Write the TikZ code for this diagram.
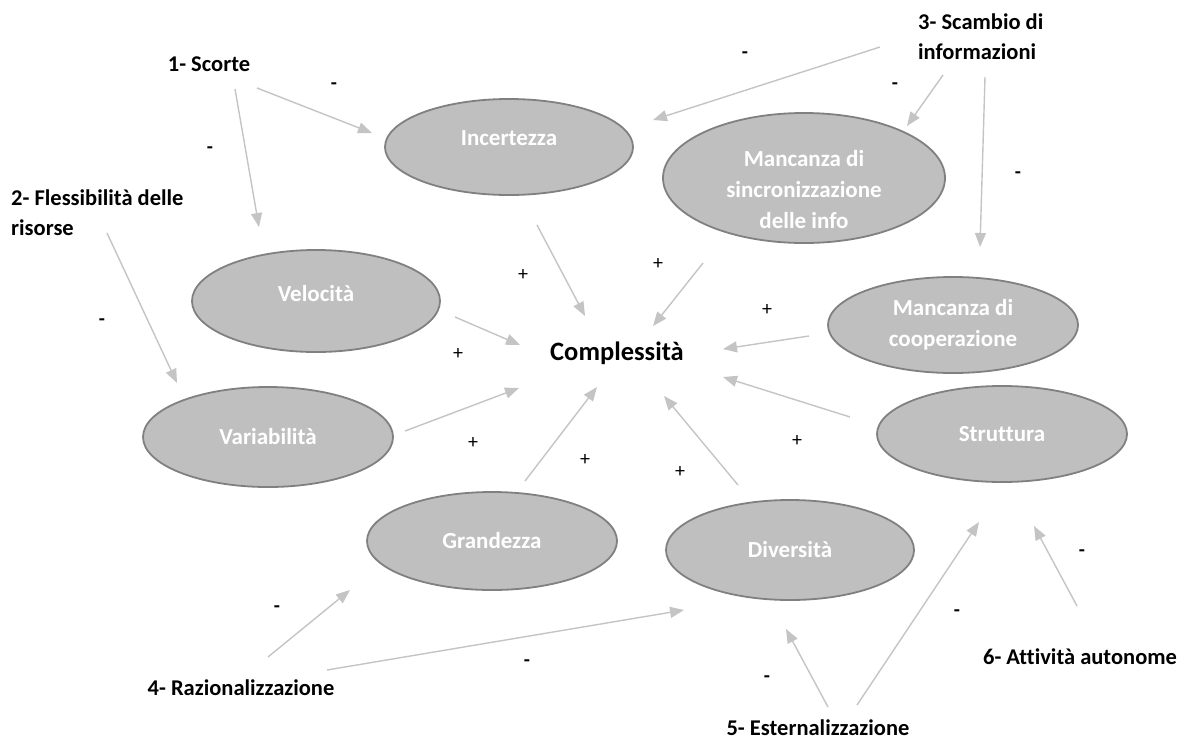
\documentclass[tikz,border=0pt]{standalone}
\usepackage{fontspec}
\setmainfont{Carlito}[Ligatures=NoCommon]
\usetikzlibrary{shapes.geometric,arrows.meta}

\definecolor{ovalfill}{HTML}{BFBFBF}
\definecolor{ovalline}{HTML}{808080}
\definecolor{linkgray}{HTML}{C4C4C4}

\tikzset{
  factor/.style={ellipse, draw=ovalline, line width=1.8pt, fill=ovalfill, inner sep=0pt,
    text=white, align=center, font=\bfseries\fontsize{23}{31}\selectfont},
  lever/.style={font=\bfseries\fontsize{22.5}{30}\selectfont, align=left, inner sep=0pt},
  sign/.style={font=\fontsize{20}{22}\selectfont, inner sep=0pt},
  link/.style={draw=linkgray, line width=1.4pt, -{Triangle[length=14pt,width=11pt]}}
}

\begin{document}
\begin{tikzpicture}[x=1pt,y=-1pt]
  \useasboundingbox (0,0) rectangle (1186,740);

  % centre
  \node[font=\bfseries\fontsize{26.5}{30}\selectfont] (cx) at (617,353) {Complessità};

  % factors of complexity
  \node[factor, minimum width=248pt, minimum height=96pt, text depth=18pt] (incert) at (509,147) {Incertezza};
  \node[factor, minimum width=282pt, minimum height=130pt] (sincro) at (804,178)
    {\raisebox{-20pt}[0pt][0pt]{\begin{tabular}{@{}c@{}}Mancanza di\\sincronizzazione\\delle info\end{tabular}}};
  \node[factor, minimum width=248pt, minimum height=102pt, text depth=16pt] (veloc) at (316,301) {Velocità};
  \node[factor, minimum width=250pt, minimum height=96pt] (coop) at (953,325) {Mancanza di\\cooperazione};
  \node[factor, minimum width=250pt, minimum height=100pt] (variab) at (268,437) {Variabilità};
  \node[factor, minimum width=250pt, minimum height=96pt] (strutt) at (1002,434) {Struttura};
  \node[factor, minimum width=250pt, minimum height=98pt] (grand) at (492,541) {Grandezza};
  \node[factor, minimum width=248pt, minimum height=100pt] (divers) at (790,550) {Diversità};

  % levers
  \node[lever] (scorte) at (209,64) {1- Scorte};
  \node[lever, anchor=west] (fless) at (11,213) {2- Flessibilità delle\\risorse};
  \node[lever, anchor=west] (scambio) at (918,37) {3- Scambio di\\informazioni};
  \node[lever] (razion) at (241,688) {4- Razionalizzazione};
  \node[lever] (estern) at (818,728) {5- Esternalizzazione};
  \node[lever] (autonom) at (1080,657) {6- Attività autonome};

  % arrows, free at both ends
  \foreach \a/\b [count=\i] in {
      {257,88}/{372,133}, {235,89}/{259,227}, {107,233}/{177,383},
      {880,47}/{653,120}, {943,75}/{907,126}, {985,77}/{980,247},
      {537,225}/{585,316}, {703,263}/{653,326}, {455,317}/{520,345},
      {809,336}/{723,349}, {850,417}/{723,377}, {405,431}/{519,388},
      {525,481}/{597,387}, {738,485}/{664,396},
      {268,657}/{350,590}, {327,670}/{684,610},
      {828,707}/{786,629}, {857,705}/{979,522}, {1077,606}/{1034,526}}
  {
    \coordinate (tail\i) at (\a);
    \coordinate (head\i) at (\b);
    \draw[link] (tail\i) -- (head\i);
  }

  % signs
  \foreach \p [count=\i] in {{745,55},{895,86},{210,150},{334,86},{102,322},{1018,175},
      {277,609},{527,663},{767,679},{957,613},{1082,553}}
    \node[sign, font=\bfseries\fontsize{20}{22}\selectfont] (minus\i) at (\p) {-};
  \foreach \p [count=\i] in {{523,275},{658,264},{458,354},{767,310},{473,443},
      {585,460},{680,472},{797,441}}
    \node[sign] (plus\i) at (\p) {+};
\end{tikzpicture}
\end{document}
